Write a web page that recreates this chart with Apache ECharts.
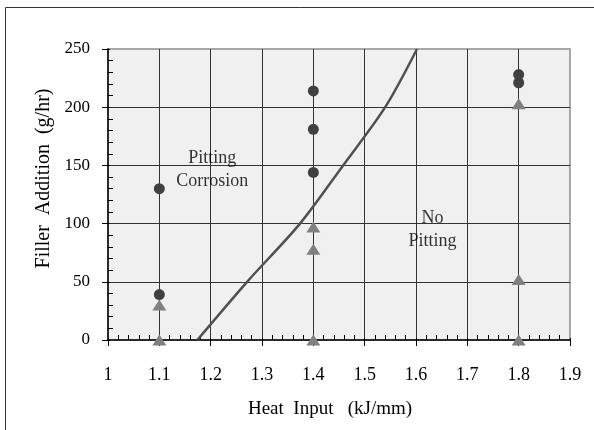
<!DOCTYPE html>
<html>
<head>
<meta charset="utf-8">
<script src="https://cdn.jsdelivr.net/npm/echarts@6/dist/echarts.min.js"></script>
<style>
html, body { margin: 0; padding: 0; background: #fff; }
#chart { width: 594px; height: 430px; }
</style>
</head>
<body>
<div id="chart"></div>
<script>
// 点蚀 (circles) 与 无点蚀 (triangles)
const pittingX = [1.1, 1.1, 1.4, 1.4, 1.4, 1.8, 1.8]
const pittingY = [130, 39, 214, 181, 144, 228, 221]
const noPittingX = [1.1, 1.1, 1.4, 1.4, 1.4, 1.8, 1.8, 1.8]
const noPittingY = [30, 0, 97, 78, 0, 203, 52, 0]
// boundary curve
const boundaryX = [1.174, 1.271, 1.374, 1.458, 1.54, 1.602]
const boundaryY = [0, 50, 100, 150, 200, 250]
// region labels
const regionText = ['Pitting\nCorrosion', 'No\nPitting']
const regionX = [1.203, 1.632]
const regionY = [146, 95]

const serif = "'Liberation Serif', 'DejaVu Serif', serif"
const zip = (xs, ys) => xs.map((x, i) => [x, ys[i]])

const chart = echarts.init(document.getElementById('chart'))

const gridLine = { show: true, showMaxLine: false, showMinLine: false, lineStyle: { color: '#333', width: 1 } }

const option = {
  animation: false,
  graphic: [
    { type: 'line', shape: { x1: 5.5, y1: 7.5, x2: 594, y2: 7.5 }, style: { stroke: '#333', lineWidth: 1 } },
    { type: 'line', shape: { x1: 5.5, y1: 7.5, x2: 5.5, y2: 430 }, style: { stroke: '#333', lineWidth: 1 } }
  ],
  grid: {
    left: 108,
    right: 24,
    top: 49,
    bottom: 90,
    show: true,
    backgroundColor: '#f0f0f0',
    borderColor: '#a8a8a8',
    borderWidth: 2
  },
  xAxis: [
    {
      type: 'value',
      min: 1,
      max: 1.9,
      interval: 0.1,
      name: 'Heat  Input   (kJ/mm)',
      nameLocation: 'middle',
      nameGap: 60,
      nameTextStyle: { fontFamily: serif, fontSize: 19, color: '#000', padding: [0, 18, 0, 0] },
      axisLine: { show: true, onZero: false, lineStyle: { color: '#000', width: 1.5 } },
      axisTick: { show: true, inside: false, length: 6, lineStyle: { color: '#000' } },
      axisLabel: {
        fontFamily: serif,
        fontSize: 18,
        color: '#000',
        margin: 26,
        formatter: v => String(Math.round(v * 10) / 10)
      },
      splitLine: gridLine
    },
    {
      type: 'value',
      min: 1,
      max: 1.9,
      interval: 0.1,
      position: 'bottom',
      axisLine: { show: false },
      axisTick: { show: true, inside: true, length: 2, lineStyle: { color: '#000' } },
      minorTick: { show: true, splitNumber: 5, length: 5, lineStyle: { color: '#000' } },
      axisLabel: { show: false },
      splitLine: { show: false }
    }
  ],
  yAxis: [
    {
      type: 'value',
      min: 0,
      max: 250,
      interval: 50,
      name: 'Filler  Addition  (g/hr)',
      nameLocation: 'middle',
      nameGap: 53,
      nameTextStyle: { fontFamily: serif, fontSize: 20, color: '#000', padding: [0, 0, 0, 32] },
      axisLine: { show: true, onZero: false, lineStyle: { color: '#000', width: 1.5 } },
      axisTick: { show: true, inside: false, length: 6, lineStyle: { color: '#000' } },
      axisLabel: {
        fontFamily: serif,
        fontSize: 17,
        color: '#000',
        margin: 18,
        padding: [12, 0, 0, 0]
      },
      splitLine: gridLine
    },
    {
      type: 'value',
      min: 0,
      max: 250,
      interval: 50,
      position: 'left',
      axisLine: { show: false },
      axisTick: { show: true, inside: true, length: 2, lineStyle: { color: '#000' } },
      minorTick: { show: true, splitNumber: 5, length: 5, lineStyle: { color: '#000' } },
      axisLabel: { show: false },
      splitLine: { show: false }
    }
  ],
  series: [
    {
      name: 'boundary',
      type: 'line',
      smooth: 0.3,
      showSymbol: false,
      lineStyle: { color: '#505050', width: 2.5 },
      data: zip(boundaryX, boundaryY),
      z: 3
    },
    {
      name: 'Pitting',
      type: 'scatter',
      symbol: 'circle',
      symbolSize: 11,
      itemStyle: { color: '#404040', opacity: 1 },
      data: zip(pittingX, pittingY),
      z: 4
    },
    {
      name: 'No pitting',
      type: 'scatter',
      symbol: 'triangle',
      symbolSize: [14, 11],
      itemStyle: { color: '#808080', opacity: 1 },
      data: zip(noPittingX, noPittingY),
      z: 4
    },
    {
      name: 'regions',
      type: 'scatter',
      symbolSize: 0,
      silent: true,
      data: regionText.map((t, i) => ({ value: [regionX[i], regionY[i]], name: t })),
      label: {
        show: true,
        position: 'inside',
        formatter: p => p.name,
        fontFamily: serif,
        fontSize: 18,
        lineHeight: 23,
        color: '#000',
        align: 'center'
      },
      z: 5
    }
  ]
}

chart.setOption(option)
</script>
</body>
</html>
